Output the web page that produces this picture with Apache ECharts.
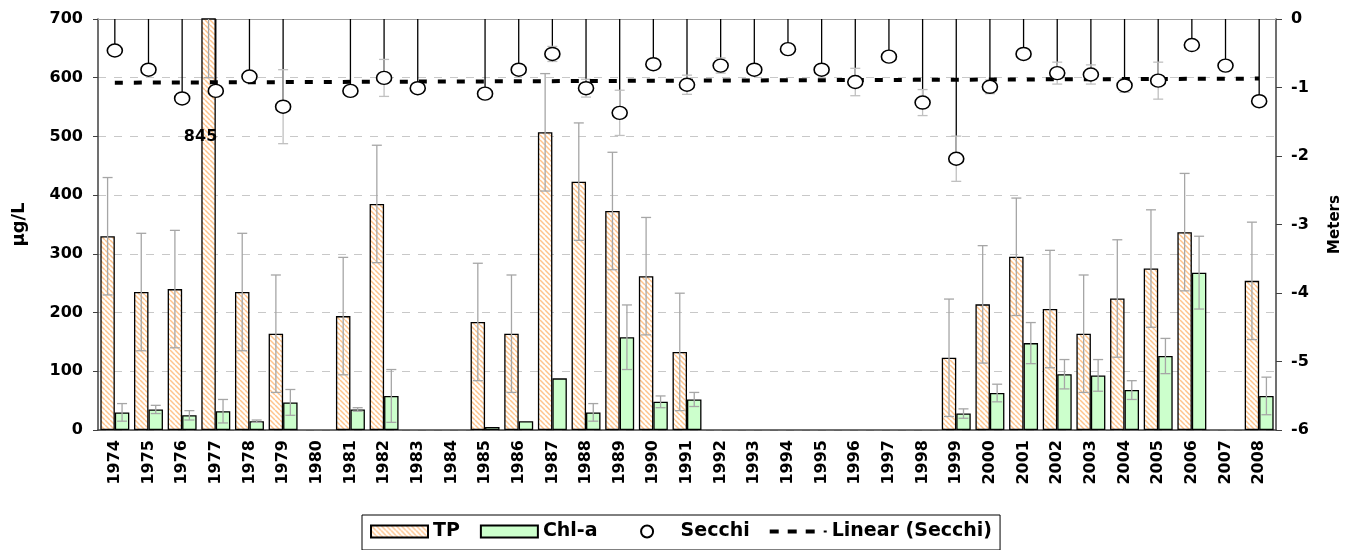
<!DOCTYPE html>
<html>
<head>
<meta charset="utf-8">
<script src="https://cdn.jsdelivr.net/npm/echarts@6/dist/echarts.min.js"></script>
<style>
html, body { margin: 0; padding: 0; background: #fff; }
#chart { width: 1351px; height: 550px; }
</style>
</head>
<body>
<div id="chart"></div>
<script>
var years = ['1974','1975','1976','1977','1978','1979','1980','1981','1982','1983','1984','1985','1986','1987','1988','1989','1990','1991','1992','1993','1994','1995','1996','1997','1998','1999','2000','2001','2002','2003','2004','2005','2006','2007','2008'];

// total phosphorus, ug/L
var tp = [330, 235, 240, 845, 235, 164, null, 194, 385, null, null, 184, 164, 507, 423, 373, 262, 133, null, null, null, null, null, null, null, 123, 214, 295, 206, 164, 224, 275, 337, null, 254];
var tpErr = [100, 100, 100, 245, 100, 100, null, 100, 100, null, null, 100, 100, 100, 100, 100, 100, 100, null, null, null, null, null, null, null, 100, 100, 100, 100, 100, 100, 100, 100, null, 100];

// chlorophyll-a, ug/L
var chl = [30, 35, 25, 32, 15, 47, null, 35, 58, null, null, 5, 15, 88, 30, 158, 48, 52, null, null, null, null, null, null, null, 28, 63, 148, 95, 93, 68, 126, 268, null, 58];
var chlErr = [15, 7, 8, 20, 2, 22, null, 3, 45, null, null, 0, 0, 0, 15, 55, 10, 12, null, null, null, null, null, null, null, 8, 15, 35, 25, 27, 16, 30, 62, null, 32];

// secchi depth, meters
var secchi = [-0.46, -0.74, -1.16, -1.05, -0.84, -1.28, null, -1.05, -0.86, -1.01, null, -1.09, -0.74, -0.51, -1.01, -1.37, -0.66, -0.96, -0.68, -0.74, -0.44, -0.74, -0.92, -0.55, -1.22, -2.04, -0.99, -0.51, -0.79, -0.81, -0.97, -0.90, -0.38, -0.68, -1.20];
var secchiErr = [0.05, 0.05, 0.05, 0.05, 0.05, 0.54, null, 0.08, 0.27, 0.06, null, 0.05, 0.05, 0.11, 0.13, 0.33, 0.05, 0.14, 0.11, 0.05, 0.05, 0.05, 0.2, 0.05, 0.19, 0.33, 0.1, 0.08, 0.16, 0.14, 0.1, 0.27, 0.05, 0.05, 0.08];

// linear trend end points
var trend = [['1974', -0.93], ['2008', -0.87]];

var dom = document.getElementById('chart');
var myChart = echarts.init(dom);

// hatched fill for TP
var hatch = document.createElement('canvas');
hatch.width = 5;
hatch.height = 5;
var hc = hatch.getContext('2d');
hc.fillStyle = '#ffffff';
hc.fillRect(0, 0, 5, 5);
hc.strokeStyle = '#ffc48c';
hc.lineWidth = 1.5;
[-5, 0, 5].forEach(function (x0) {
    hc.beginPath();
    hc.moveTo(x0, 0);
    hc.lineTo(x0 + 5, 5);
    hc.stroke();
});

var FONT = 'DejaVu Sans';
var GAP = 0.86; // share of the band used by the two bars
var dashIcon = 'path://M0,0h9v4h-9zM18,0h9v4h-9zM36,0h9v4h-9zM54,1h3v2h-3z';
// circle centred in a full-width legend box
var circleIcon = 'path://M0,0M57,12M22.5,6a6,6 0 1,0 12,0a6,6 0 1,0 -12,0z';

function errRender(side, color) {
    return function (params, api) {
        var v = api.value(1), e = api.value(2);
        if (isNaN(v) || isNaN(e) || !e) return;
        var cs = params.coordSys;
        var i = api.value(0);
        var w = api.size([1, 0])[0];
        var x = api.coord([i, v])[0] + side * w * GAP / 4;
        var yt = api.coord([i, v + e])[1];
        var yb = api.coord([i, v - e])[1];
        var top = cs.y, bot = cs.y + cs.height;
        var kids = [];
        var a = Math.max(yt, top), b = Math.min(yb, bot);
        if (a >= b) return;
        var st = { stroke: color, lineWidth: 1.3 };
        kids.push({ type: 'line', shape: { x1: x, y1: a, x2: x, y2: b }, style: st });
        if (yt >= top) kids.push({ type: 'line', shape: { x1: x - 5, y1: yt, x2: x + 5, y2: yt }, style: st });
        if (yb <= bot) kids.push({ type: 'line', shape: { x1: x - 5, y1: yb, x2: x + 5, y2: yb }, style: st });
        return { type: 'group', children: kids };
    };
}

function dropRender(params, api) {
    var v = api.value(1);
    if (isNaN(v)) return;
    var i = api.value(0);
    var p0 = api.coord([i, 0]);
    var p1 = api.coord([i, v]);
    return {
        type: 'line',
        shape: { x1: p0[0], y1: p0[1], x2: p1[0], y2: p1[1] - 6 },
        style: { stroke: '#000', lineWidth: 1.3 }
    };
}

function triples(vals, errs) {
    return years.map(function (y, i) {
        return [i, vals[i] == null ? '-' : vals[i], errs[i] == null ? '-' : errs[i]];
    });
}

var option = {
    animation: false,
    grid: { left: 98, right: 69, top: 19, bottom: 120 },
    legend: {
        data: [
            { name: 'TP', icon: 'rect' },
            { name: 'Chl-a', icon: 'rect' },
            { name: 'Secchi', icon: circleIcon },
            { name: 'Linear (Secchi)', icon: dashIcon }
        ],
        top: 515,
        left: 362,
        itemWidth: 57,
        itemHeight: 12,
        itemGap: 20,
        borderColor: '#000',
        borderWidth: 1,
        padding: [7, 8, 9, 8],
        textStyle: { fontFamily: FONT, fontWeight: 'bold', fontSize: 19, color: '#000' }
    },
    xAxis: [{
        type: 'category',
        data: years,
        axisLine: { lineStyle: { color: '#404040', width: 1.5 } },
        axisTick: { interval: 0, length: 7, lineStyle: { color: '#404040' } },
        axisLabel: {
            interval: 0, rotate: 90, margin: 10,
            fontFamily: FONT, fontWeight: 'bold', fontSize: 16, color: '#000'
        }
    }, {
        type: 'category',
        data: years,
        position: 'top',
        axisLine: { lineStyle: { color: '#a0a0a0', width: 1.2 } },
        axisTick: { show: false },
        axisLabel: { show: false }
    }],
    yAxis: [{
        type: 'value',
        min: 0, max: 700, interval: 100,
        name: 'µg/L',
        nameLocation: 'middle',
        nameGap: 70,
        nameTextStyle: { fontFamily: FONT, fontWeight: 'bold', fontSize: 18, color: '#000' },
        axisLine: { show: true, lineStyle: { color: '#404040', width: 1.5 } },
        axisTick: { show: true, length: 5, lineStyle: { color: '#404040' } },
        axisLabel: { fontFamily: FONT, fontWeight: 'bold', fontSize: 16, color: '#000', margin: 15 },
        splitLine: { lineStyle: { color: '#c8c8c8', type: [8, 8], width: 1 } }
    }, {
        type: 'value',
        min: -6, max: 0, interval: 1,
        position: 'right',
        name: 'Meters',
        nameLocation: 'middle',
        nameGap: 52,
        nameTextStyle: { fontFamily: FONT, fontWeight: 'bold', fontSize: 15, color: '#000' },
        axisLine: { show: true, lineStyle: { color: '#404040', width: 1.5 } },
        axisTick: { show: true, length: 6, lineStyle: { color: '#404040' } },
        axisLabel: { fontFamily: FONT, fontWeight: 'bold', fontSize: 16, color: '#000', margin: 15 },
        splitLine: { show: false }
    }],
    series: [{
        name: 'TP',
        type: 'bar',
        data: tp,
        barGap: '0%',
        barCategoryGap: '14%',
        itemStyle: { color: { image: hatch, repeat: 'repeat' }, borderColor: '#000', borderWidth: 1.3 },
        markPoint: {
            symbol: 'circle',
            symbolSize: 1,
            itemStyle: { color: 'rgba(0,0,0,0)' },
            label: {
                show: true, position: 'inside', offset: [-8, 0],
                formatter: String(tp[3]),
                fontFamily: FONT, fontWeight: 'bold', fontSize: 16, color: '#000'
            },
            data: [{ coord: ['1977', 500] }]
        }
    }, {
        name: 'Chl-a',
        type: 'bar',
        data: chl,
        itemStyle: { color: '#ccffcc', borderColor: '#000', borderWidth: 1.3 }
    }, {
        name: 'TP err',
        type: 'custom',
        renderItem: errRender(-1, '#a6a6a6'),
        data: triples(tp, tpErr),
        encode: { x: 0, y: 1 },
        z: 3
    }, {
        name: 'Chl-a err',
        type: 'custom',
        renderItem: errRender(1, '#a6a6a6'),
        data: triples(chl, chlErr),
        encode: { x: 0, y: 1 },
        z: 3
    }, {
        name: 'Secchi drop',
        type: 'custom',
        yAxisIndex: 1,
        renderItem: dropRender,
        data: triples(secchi, secchiErr),
        encode: { x: 0, y: 1 },
        z: 4
    }, {
        name: 'Secchi err',
        type: 'custom',
        yAxisIndex: 1,
        renderItem: errRender(0, '#c0c0c0'),
        data: triples(secchi, secchiErr),
        encode: { x: 0, y: 1 },
        z: 4
    }, {
        name: 'Linear (Secchi)',
        type: 'line',
        yAxisIndex: 1,
        data: trend,
        symbol: 'none',
        lineStyle: { color: '#000', width: 4, type: [8, 11] },
        itemStyle: { color: '#000' },
        z: 5
    }, {
        name: 'Secchi',
        type: 'scatter',
        yAxisIndex: 1,
        data: secchi,
        symbol: 'circle',
        symbolSize: [15, 13],
        itemStyle: { color: '#fff', borderColor: '#000', borderWidth: 1.5, opacity: 1 },
        z: 6
    }]
};

myChart.setOption(option);

window.addEventListener('resize', function () {
    myChart.resize();
});
</script>
</body>
</html>
